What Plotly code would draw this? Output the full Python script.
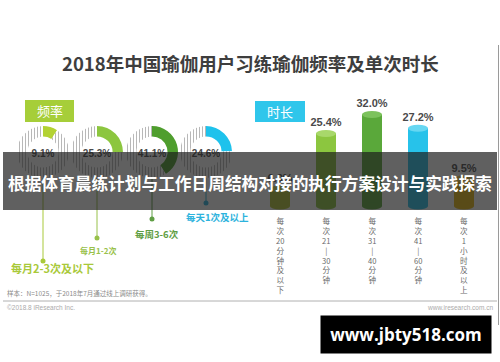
import plotly.graph_objects as go

W, H = 500, 362

# ---------------- data ----------------
title_text = "2018年中国瑜伽用户习练瑜伽频率及单次时长"
band_text = "根据体育晨练计划与工作日周结构对接的执行方案设计与实践探索"

freq_labels = ["每月2-3次及以下", "每月1-2次", "每周3-6次", "每天1次及以上"]
freq_values = [9.1, 25.3, 41.1, 24.6]
freq_colors = ["#b3d234", "#8cc63f", "#4f9e2e", "#1ec2ec"]

dur_labels = ["每次20分钟及以下", "每次21-30分钟", "每次31-40分钟", "每次41-60分钟", "每次1小时及以上"]
dur_ticks = [
    ["每", "次", "20", "分", "钟", "及", "以", "下"],
    ["每", "次", "21", "|", "30", "分", "钟"],
    ["每", "次", "31", "|", "40", "分", "钟"],
    ["每", "次", "41", "|", "60", "分", "钟"],
    ["每", "次", "1", "小", "时", "及", "以", "上"],
]
dur_values = [6.0, 25.4, 32.0, 27.2, 9.5]
dur_body = ["#b2c434", "#8cc63f", "#5aa83a", "#27c2ea", "#e6b70f"]
dur_top = ["#c8d758", "#a8d86a", "#7cc25c", "#66d7f2", "#f3cd48"]

sample_note = "样本：N=1025，于2018年7月通过线上调研获得。"
copyright_note = "©2018.8 iResearch Inc."
site_note = "www.iresearch.com.cn"
watermark = "www.jbty518.com"


def X(px):
    return px / W


def Y(py):
    return 1 - py / H


CJK = "Noto Sans CJK SC"
NARROW = "Liberation Sans Narrow, Arial Narrow, Liberation Sans, sans-serif"

fig = go.Figure()
shapes = []
annotations = []


def note(text, px, py, size, color, family=CJK, xanchor="center", **kw):
    annotations.append(dict(text=text, xref="paper", yref="paper", x=X(px), y=Y(py),
                            showarrow=False, xanchor=xanchor, yanchor="middle",
                            font=dict(size=size, color=color, family=family), **kw))


# ---------------- donuts ----------------
donut_cx = [43, 97, 152, 206]
donut_cy = 152
R = 26
for i, (v, c) in enumerate(zip(freq_values, freq_colors)):
    cx = donut_cx[i]
    fig.add_trace(go.Pie(
        values=[v, 100 - v],
        labels=["a", "b"],
        sort=False,
        direction="clockwise",
        rotation=0,
        hole=0.6,
        textinfo="none",
        hoverinfo="skip",
        showlegend=False,
        marker=dict(colors=[c, "#ffffff"],
                    line=dict(width=0),
                    pattern=dict(shape=["", "|"], fgcolor=["#ffffff", "#b8b8b8"],
                                 bgcolor=[c, "#ffffff"], size=3, solidity=0.35)),
        domain=dict(x=[X(cx - R), X(cx + R)], y=[Y(donut_cy + R), Y(donut_cy - R)]),
        title=dict(text=f"<b>{v:.1f}%</b>", position="middle center",
                   font=dict(size=10, color="#4a4a4a", family=NARROW)),
    ))

# connectors + labels under donuts
conn_end = [261, 238, 219, 203]
lab_y = [268, 251, 234, 217]
lab_x = [52, 98, 157, 217]
lab_size = [11, 8, 9.5, 9.5]
lab_col = ["#a9c93a", "#98c14a", "#5f9e44", "#2db3dd"]
for i in range(4):
    cx = donut_cx[i]
    shapes.append(dict(type="line", xref="paper", yref="paper", layer="above",
                       x0=X(cx), x1=X(cx), y0=Y(donut_cy + R), y1=Y(conn_end[i]),
                       line=dict(color=lab_col[i], width=1)))
    shapes.append(dict(type="circle", xref="paper", yref="paper", layer="above",
                       x0=X(cx - 2.5), x1=X(cx + 2.5), y0=Y(conn_end[i] + 2.5), y1=Y(conn_end[i] - 2.5),
                       fillcolor=lab_col[i], line=dict(width=0)))
    note(f"<b>{freq_labels[i]}</b>", lab_x[i], lab_y[i], lab_size[i], lab_col[i])

# ---------------- cylinders ----------------
ppu = 2.857  # px per percent
base_px = 206
top_px = 40
ymin = -2
ymax = (base_px - top_px) / ppu
dom_bottom = Y(base_px - ymin * ppu)
dom_top = Y(top_px)
xs = list(range(len(dur_values)))

fig.add_trace(go.Bar(
    x=xs, y=dur_values, width=0.44, marker=dict(color=dur_body, line=dict(width=0)),
    hoverinfo="skip", showlegend=False, xaxis="x", yaxis="y",
))
fig.add_trace(go.Scatter(
    x=xs, y=[v + 1.6 for v in dur_values], mode="text",
    text=[f"<b>{v:.1f}%</b>" for v in dur_values], textposition="top center",
    textfont=dict(size=11, color="#4a4a4a", family=NARROW),
    hoverinfo="skip", showlegend=False, cliponaxis=False, xaxis="x", yaxis="y",
))

e = 3.5 / ppu
hw = 0.22
for i, v in enumerate(dur_values):
    shapes.append(dict(type="circle", xref="x", yref="y", layer="above",
                       x0=i - hw, x1=i + hw, y0=-e, y1=e,
                       fillcolor=dur_body[i], line=dict(width=0)))
    shapes.append(dict(type="circle", xref="x", yref="y", layer="above",
                       x0=i - hw, x1=i + hw, y0=v - e, y1=v + e,
                       fillcolor=dur_top[i], line=dict(width=0)))
    annotations.append(dict(text="<br>".join(dur_ticks[i]), xref="x", yref="paper", x=i,
                            y=Y(212.5), showarrow=False,
                            xanchor="center", yanchor="top",
                            font=dict(size=7.6, color="#6a6a6a", family=CJK)))

# ---------------- boxes ----------------
shapes.append(dict(type="rect", xref="paper", yref="paper", layer="above",
                   x0=X(25), x1=X(74), y0=Y(122), y1=Y(100),
                   fillcolor="#a6ce39", line=dict(width=0)))
note("频率", 49.5, 111, 13, "white")
shapes.append(dict(type="rect", xref="paper", yref="paper", layer="above",
                   x0=X(255), x1=X(305), y0=Y(122), y1=Y(101),
                   fillcolor="#2fc6eb", line=dict(width=0)))
note("时长", 280, 111.5, 13, "white")

# ---------------- overlay band ----------------
shapes.append(dict(type="rect", xref="paper", yref="paper", layer="above",
                   x0=X(3), x1=X(497), y0=Y(210), y1=Y(152),
                   fillcolor="rgba(28,28,28,0.70)", line=dict(width=0)))
note(f"<b>{band_text}</b>", 250, 183, 16.7, "white")

# ---------------- title ----------------
note(f"<b>{title_text}</b>", 250, 63, 18.5, "#3e3e3e")

# ---------------- footer ----------------
shapes.append(dict(type="line", xref="paper", yref="paper", layer="above",
                   x0=X(3), x1=X(497), y0=Y(301), y1=Y(301),
                   line=dict(color="#b0b0b0", width=1)))
shapes.append(dict(type="line", xref="paper", yref="paper", layer="above",
                   x0=X(498.5), x1=X(498.5), y0=Y(45), y1=Y(325),
                   line=dict(color="#9a9a9a", width=1)))
note(sample_note, 5, 293, 6.5, "#8a8a8a", xanchor="left")
note(copyright_note, 5, 307, 6.5, "#aaaaaa", family="Liberation Sans", xanchor="left")
note(site_note, 495, 307, 6.5, "#aaaaaa", family="Liberation Sans", xanchor="right")

# ---------------- watermark box ----------------
note(f"<b>{watermark}</b>", 406, 334.5, 17, "#ffffff", family="Open Sans",
     width=166, height=33, bgcolor="#000000", borderpad=2, align="center", valign="middle")

fig.update_layout(
    width=W, height=H,
    margin=dict(l=0, r=0, t=0, b=0),
    paper_bgcolor="white", plot_bgcolor="rgba(0,0,0,0)",
    xaxis=dict(domain=[X(257), X(487)], range=[-0.5, 4.5], visible=False, fixedrange=True),
    yaxis=dict(domain=[dom_bottom, dom_top], range=[ymin, ymax], visible=False, fixedrange=True),
    shapes=shapes,
    annotations=annotations,
    bargap=0,
)

fig.write_html(
    "out.html",
    config={"displayModeBar": False, "staticPlot": True},
    post_script="document.body.style.margin='0';document.body.style.overflow='hidden';",
)
